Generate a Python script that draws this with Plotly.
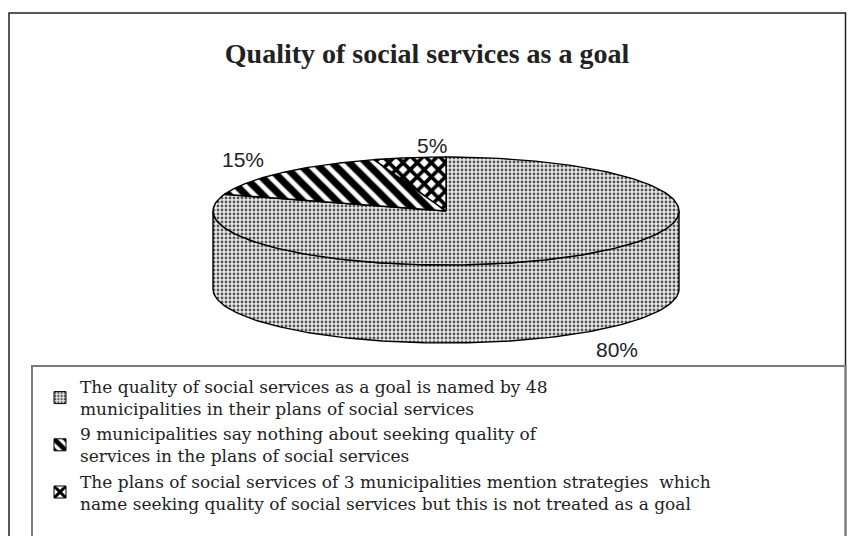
import numpy as np
import plotly.graph_objects as go

# ---------------- data ----------------
title_text = "Quality of social services as a goal"
legend_labels = [
    "The quality of social services as a goal is named by 48<br>municipalities in their plans of social services",
    "9 municipalities say nothing about seeking quality of<br>services in the plans of social services",
    "The plans of social services of 3 municipalities mention strategies  which<br>name seeking quality of social services but this is not treated as a goal",
]
counts = [48, 9, 3]

# ---------------- style ----------------
patterns = [
    dict(shape=".", size=4, solidity=0.4, fgcolor="#555555", bgcolor="#ebebeb", fgopacity=1),
    dict(shape="\\", size=12, solidity=0.6, fgcolor="black", bgcolor="white", fgopacity=1),
    dict(shape="x", size=10, solidity=0.6, fgcolor="black", bgcolor="white", fgopacity=1),
]
CX, CY, RX, RY, DEPTH = 446, 211, 233, 54, 78   # pie geometry in pixel space
label_k = [1.12, 1.12, 1.12]
label_nudge = [(18, 12), (-18, -9), (27, -6)]

W, H = 850, 536
fig = go.Figure()

total = float(sum(counts))
start = 90.0
slices = []
for v in counts:
    sweep = 360.0 * v / total
    slices.append((start, start - sweep))
    start -= sweep


def ell(th_deg, dy=0.0, k=1.0):
    t = np.radians(th_deg)
    return CX + k * RX * np.cos(t), CY - k * RY * np.sin(t) + dy


# side walls (front half of the cylinder)
for i, (a0, a1) in enumerate(slices):
    for s in (-1, 0, 1):
        hi = min(a0, 0 + 360 * s)
        lo = max(a1, -180 + 360 * s)
        if hi > lo:
            th = np.linspace(hi, lo, 120)
            xt, yt = ell(th)
            xb, yb = ell(th[::-1], DEPTH)
            xs = np.concatenate([xt, xb, xt[:1]])
            ys = np.concatenate([yt, yb, yt[:1]])
            fig.add_trace(go.Scatter(
                x=xs, y=ys, mode="lines", fill="toself",
                fillcolor=patterns[i]["bgcolor"], fillpattern=patterns[i],
                line=dict(color="black", width=1.4),
                showlegend=False, hoverinfo="skip"))

# top faces
for i, (a0, a1) in enumerate(slices):
    th = np.linspace(a0, a1, 200)
    xe, ye = ell(th)
    xs = np.concatenate([[CX], xe, [CX]])
    ys = np.concatenate([[CY], ye, [CY]])
    fig.add_trace(go.Scatter(
        x=xs, y=ys, mode="lines", fill="toself",
        fillcolor=patterns[i]["bgcolor"], fillpattern=patterns[i],
        line=dict(color="black", width=1.4),
        showlegend=False, hoverinfo="skip"))

# percentage labels
for i, (a0, a1) in enumerate(slices):
    mid = (a0 + a1) / 2.0
    front = np.sin(np.radians(mid)) < 0
    x, y = ell(mid, DEPTH if front else 0.0, label_k[i])
    fig.add_annotation(
        x=x + label_nudge[i][0], y=y + label_nudge[i][1], xref="x", yref="y",
        text=f"{round(100 * counts[i] / total)}%", showarrow=False,
        font=dict(family="Liberation Sans", size=21, color="#222"))

# legend entries
for i, lab in enumerate(legend_labels):
    fig.add_trace(go.Bar(
        x=[None], y=[None], name=lab,
        marker=dict(color=patterns[i]["bgcolor"], pattern=patterns[i],
                    line=dict(color="black", width=1)),
        showlegend=True))

# frames
fig.add_shape(type="rect", xref="x", yref="y", x0=9, y0=13, x1=845.5, y1=560,
              line=dict(color="#222", width=1.5), layer="below")
fig.add_shape(type="rect", xref="x", yref="y", x0=32, y0=366, x1=845.5, y1=560,
              line=dict(color="#7a7a7a", width=2), layer="below")

fig.update_layout(
    width=W, height=H,
    margin=dict(l=0, r=0, t=0, b=0),
    paper_bgcolor="white", plot_bgcolor="white",
    title=dict(text=f"<b>{title_text}</b>", x=427 / W, xanchor="center",
               y=1 - 53 / H, yanchor="middle",
               font=dict(family="Liberation Serif", size=28, color="#222")),
    xaxis=dict(range=[0, W], visible=False, fixedrange=True),
    yaxis=dict(range=[H, 0], visible=False, fixedrange=True),
    showlegend=True,
    legend=dict(x=40 / W, y=1 - 369 / H, xanchor="left", yanchor="top",
                bgcolor="rgba(0,0,0,0)", borderwidth=0,
                font=dict(family="DejaVu Serif", size=17, color="#222"),
                tracegroupgap=0, itemwidth=30),
)

fig.write_html(
    "out.html",
    config={"displayModeBar": False},
    post_script="document.body.style.margin='0';document.body.style.overflow='hidden';",
)
